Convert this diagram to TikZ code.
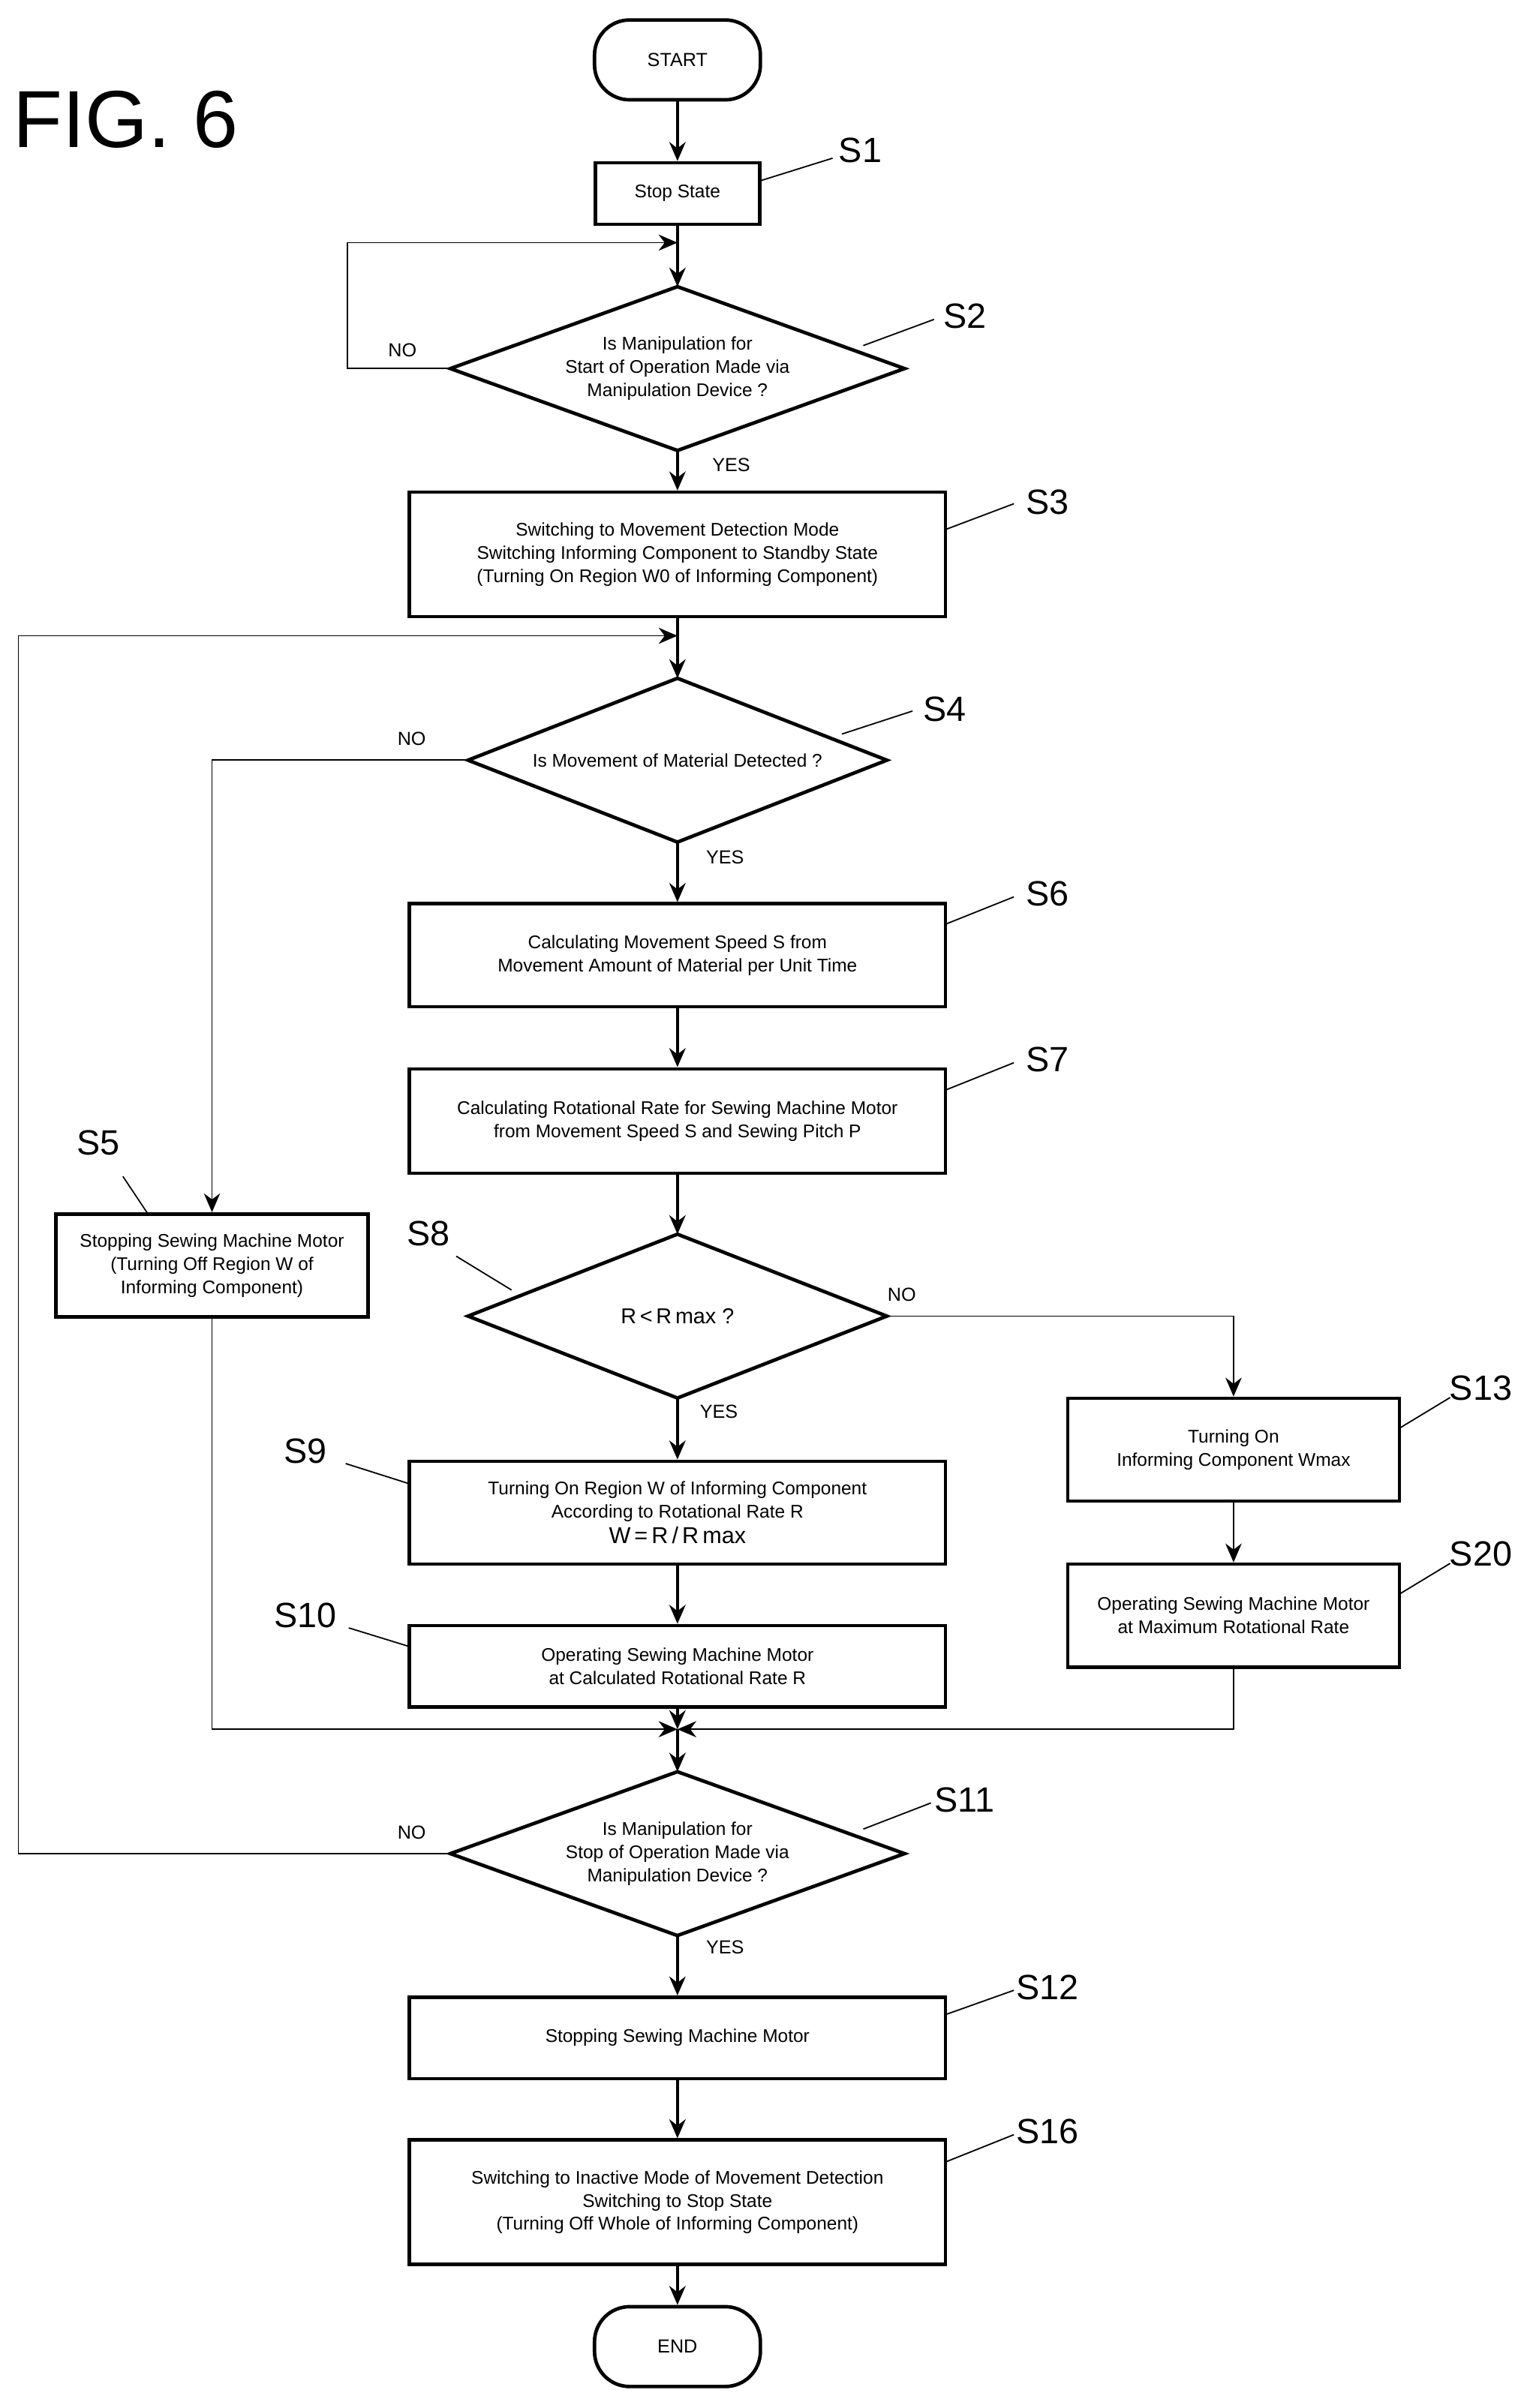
\documentclass[tikz,border=0pt]{standalone}
\usepackage{fontspec}
\setmainfont{Liberation Sans}
\usetikzlibrary{shapes.geometric,arrows.meta}
\begin{document}
\begin{tikzpicture}[x=0.02cm,y=-0.02cm,
 box/.style={draw,line width=1.3pt,align=center,font=\fontsize{6.8}{8.6}\selectfont,inner sep=0pt},
 dia/.style={align=center,font=\fontsize{6.8}{8.6}\selectfont,inner sep=0pt},
 term/.style={draw,line width=1.3pt,rounded corners=13pt,minimum width=2.16cm,minimum height=1.04cm,font=\fontsize{7}{8}\selectfont},
 lab/.style={font=\fontsize{13}{14}\selectfont},
 yn/.style={font=\fontsize{7}{8}\selectfont},
 flow/.style={line width=1.2pt,-{Stealth[length=7pt,width=6pt]}},
 tarr/.style={line width=0.5pt,-{Stealth[length=7pt,width=6pt]}},
 lead/.style={line width=0.5pt},
 dline/.style={line width=1.3pt,line join=miter}]
\useasboundingbox (0,0) rectangle (992,1568);
\node[font=\fontsize{30}{32}\selectfont] (fig) at (82,78) {FIG. 6};
\node[term] (start) at (441,39) {START};
\node[box,minimum width=2.14cm,minimum height=0.8cm] (s1) at (441,126) {Stop State};
\node[dia,minimum width=5.9cm,minimum height=2.12cm] (s2) at (441,240) {Is Manipulation for\\Start of Operation Made via\\Manipulation Device ?};
\node[box,minimum width=6.98cm,minimum height=1.62cm] (s3) at (441,361) {Switching to Movement Detection Mode\\Switching Informing Component to Standby State\\(Turning On Region W0 of Informing Component)};
\node[dia,minimum width=5.44cm,minimum height=2.12cm] (s4) at (441,495) {Is Movement of Material Detected ?};
\node[box,minimum width=6.98cm,minimum height=1.34cm] (s6) at (441,622) {Calculating Movement Speed S from\\Movement Amount of Material per Unit Time};
\node[box,minimum width=6.98cm,minimum height=1.36cm] (s7) at (441,730) {Calculating Rotational Rate for Sewing Machine Motor\\from Movement Speed S and Sewing Pitch P};
\node[dia,minimum width=5.44cm,minimum height=2.12cm,font=\fontsize{8}{9}\selectfont] (s8) at (441,857) {R\,<\,R\,max ?};
\node[box,minimum width=4.06cm,minimum height=1.34cm] (s5) at (138,824) {Stopping Sewing Machine Motor\\(Turning Off Region W of\\Informing Component)};
\node[box,minimum width=6.98cm,minimum height=1.34cm] (s9) at (441,985) {Turning On Region W of Informing Component\\According to Rotational Rate R\\[1pt]{\fontsize{8.5}{10}\selectfont W\,=\,R\,/\,R\,max}};
\node[box,minimum width=6.98cm,minimum height=1.06cm] (s10) at (441,1085) {Operating Sewing Machine Motor\\at Calculated Rotational Rate R};
\node[box,minimum width=4.32cm,minimum height=1.34cm] (s13) at (803,944) {Turning On\\Informing Component Wmax};
\node[box,minimum width=4.32cm,minimum height=1.34cm] (s20) at (803,1052) {Operating Sewing Machine Motor\\at Maximum Rotational Rate};
\node[dia,minimum width=5.9cm,minimum height=2.12cm] (s11) at (441,1207) {Is Manipulation for\\Stop of Operation Made via\\Manipulation Device ?};
\node[box,minimum width=6.98cm,minimum height=1.06cm] (s12) at (441,1327) {Stopping Sewing Machine Motor};
\node[box,minimum width=6.98cm,minimum height=1.62cm] (s16) at (441,1434) {Switching to Inactive Mode of Movement Detection\\Switching to Stop State\\(Turning Off Whole of Informing Component)};
\node[term] (end) at (441,1528) {END};
\foreach \d in {s2,s4,s8,s11}
  \draw[dline] (\d.north) -- (\d.east) -- (\d.south) -- (\d.west) -- cycle;
\coordinate (j2) at (441,158);
\coordinate (j4) at (441,414);
\coordinate (jm) at (441,1126);
\draw[flow] (start) -- (s1);
\draw[flow] (s1) -- (s2);
\draw[flow] (s2) -- (s3);
\draw[flow] (s3) -- (s4);
\draw[flow] (s4) -- (s6);
\draw[flow] (s6) -- (s7);
\draw[flow] (s7) -- (s8);
\draw[flow] (s8) -- (s9);
\draw[flow] (s9) -- (s10);
\draw[flow] (s10) -- (jm);
\draw[flow] (jm) -- (s11);
\draw[flow] (s11) -- (s12);
\draw[flow] (s12) -- (s16);
\draw[flow] (s16) -- (end);
\draw[tarr] (s2.west) -- (226,240) |- (j2);
\draw[tarr] (s11.west) -- (12,1207) |- (j4);
\draw[tarr] (s4.west) -| (s5.north);
\draw[tarr] (s8.east) -| (s13.north);
\draw[tarr] (s13) -- (s20);
\draw[tarr] (s5.south) |- (jm);
\draw[tarr] (s20.south) |- (jm);
\node[yn] (n2) at (262,228) {NO};
\node[yn] (y2) at (476,303) {YES};
\node[yn] (n4) at (268,481) {NO};
\node[yn] (y4) at (472,558) {YES};
\node[yn] (n8) at (587,843) {NO};
\node[yn] (y8) at (468,919) {YES};
\node[yn] (n11) at (268,1193) {NO};
\node[yn] (y11) at (472,1268) {YES};
\node[lab] (l1) at (560,98) {S1};
\draw[lead] (494,118) -- (542,103);
\node[lab] (l2) at (628,206) {S2};
\draw[lead] (562,225) -- (608,208);
\node[lab] (l3) at (682,327) {S3};
\draw[lead] (615,345) -- (660,328);
\node[lab] (l4) at (615,462) {S4};
\draw[lead] (548,478) -- (594,463);
\node[lab] (l6) at (682,582) {S6};
\draw[lead] (615,602) -- (660,584);
\node[lab] (l7) at (682,690) {S7};
\draw[lead] (615,710) -- (660,692);
\node[lab] (l8) at (279,803) {S8};
\draw[lead] (297,818) -- (333,840);
\node[lab] (l5) at (64,744) {S5};
\draw[lead] (80,766) -- (96,790);
\node[lab] (l9) at (199,945) {S9};
\draw[lead] (225,953) -- (266,966);
\node[lab] (l10) at (199,1052) {S10};
\draw[lead] (227,1060) -- (266,1072);
\node[lab] (l13) at (964,904) {S13};
\draw[lead] (911,930) -- (944,910);
\node[lab] (l20) at (964,1012) {S20};
\draw[lead] (911,1038) -- (944,1018);
\node[lab] (l11) at (628,1172) {S11};
\draw[lead] (562,1191) -- (606,1174);
\node[lab] (l12) at (682,1294) {S12};
\draw[lead] (615,1312) -- (660,1296);
\node[lab] (l16) at (682,1388) {S16};
\draw[lead] (615,1408) -- (660,1390);
\end{tikzpicture}
\end{document}
